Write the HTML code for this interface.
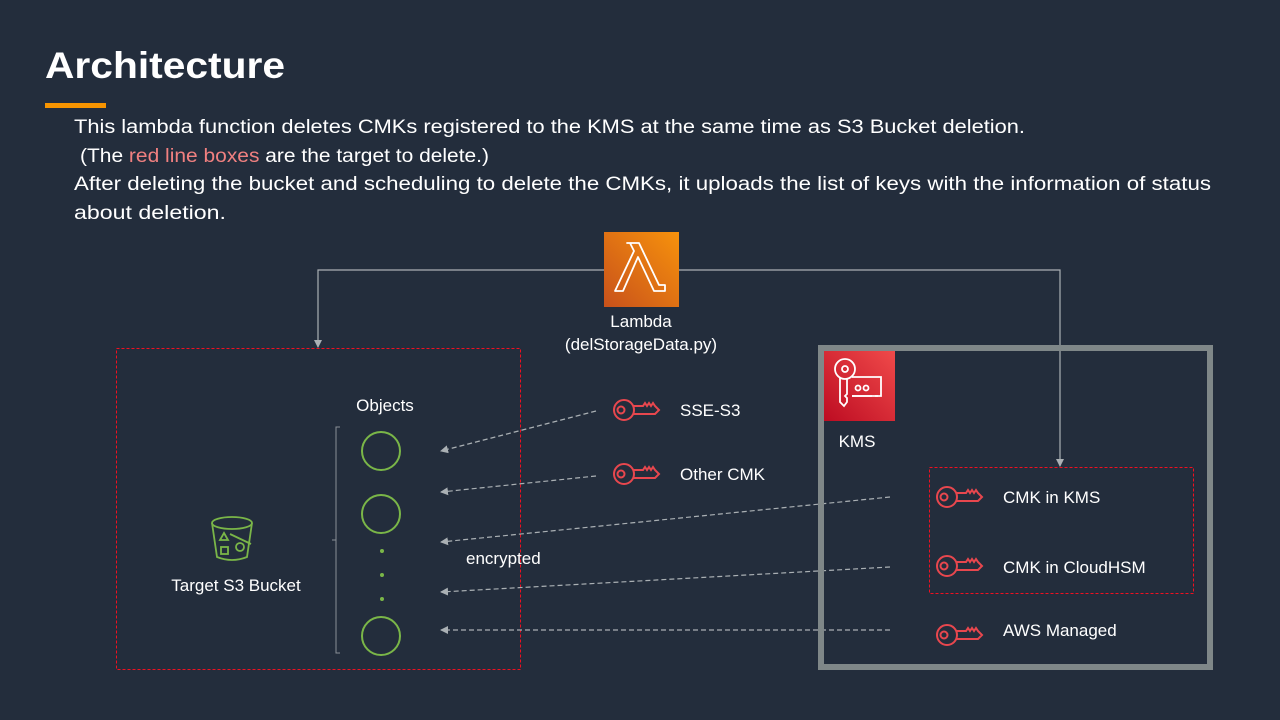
<!DOCTYPE html>
<html><head><meta charset="utf-8"><style>
html,body{margin:0;padding:0;background:#232d3c;}
svg{display:block;font-family:"Liberation Sans",sans-serif;}
</style></head><body>
<svg width="1280" height="720" viewBox="0 0 1280 720" xmlns="http://www.w3.org/2000/svg">
<defs>
<marker id="ar" markerWidth="8" markerHeight="8" refX="7" refY="4" orient="auto" markerUnits="userSpaceOnUse">
<path d="M0,0 L8,4 L0,8 z" fill="#aab0b4"/></marker>
<g id="key" fill="none" stroke="#e8474e" stroke-width="2">
<circle cx="11" cy="0" r="10"/><circle cx="8" cy="0" r="3.5"/>
<path d="M20,-4 L30,-4 L32,-7 L34,-4 L36,-7 L38,-4 L40,-7 L42,-4 L46,0 L42,4 L20,4"/>
</g>
<linearGradient id="og" x1="0" y1="1" x2="1" y2="0"><stop offset="0" stop-color="#c8511b"/><stop offset="1" stop-color="#f7920c"/></linearGradient>
<linearGradient id="rg" x1="0" y1="1" x2="1" y2="0"><stop offset="0" stop-color="#bd0c22"/><stop offset="1" stop-color="#f04a4a"/></linearGradient>
</defs>
<rect width="1280" height="720" fill="#232d3c"/>
<text x="45" y="78" font-size="37" font-weight="bold" fill="#fff" textLength="240" lengthAdjust="spacingAndGlyphs">Architecture</text>
<rect x="45" y="103" width="61" height="5" fill="#f79400"/>
<g font-size="19" fill="#fff">
<text x="74" y="133" textLength="951" lengthAdjust="spacingAndGlyphs">This lambda function deletes CMKs registered to the KMS at the same time as S3 Bucket deletion.</text>
<text x="80" y="162" textLength="409" lengthAdjust="spacingAndGlyphs">(The <tspan fill="#f08080">red line boxes</tspan> are the target to delete.)</text>
<text x="74" y="190" textLength="1137" lengthAdjust="spacingAndGlyphs">After deleting the bucket and scheduling to delete the CMKs, it uploads the list of keys with the information of status</text>
<text x="74" y="219" textLength="152" lengthAdjust="spacingAndGlyphs">about deletion.</text>
</g>
<path d="M604,270 H318 V347" fill="none" stroke="#aab0b4" stroke-width="1.2" marker-end="url(#ar)"/>
<path d="M679,270 H1060 V466" fill="none" stroke="#aab0b4" stroke-width="1.2" marker-end="url(#ar)"/>
<rect x="604" y="232" width="75" height="75" fill="url(#og)"/>
<path d="M627,243 h12 l20,42 h6 v6 h-11 l-16,-34 l-15,34 h-8 l19,-40 l-4,-8 h-3 z" fill="none" stroke="#fff" stroke-width="1.8" stroke-linejoin="round"/>
<g font-size="17" fill="#fff" text-anchor="middle"><text x="641" y="327">Lambda</text><text x="641" y="350">(delStorageData.py)</text></g>
<rect x="116.5" y="348.5" width="404" height="321" fill="none" stroke="#f01020" stroke-width="1" stroke-dasharray="3,2"/>
<g fill="none" stroke="#7ab648" stroke-width="1.8">
<path d="M212,523 L217,557 Q232,563 247,557 L252,523"/><ellipse cx="232" cy="523" rx="20" ry="6"/>
<path d="M220,540 l4,-7 l4,7 z"/><rect x="221" y="547" width="7" height="7"/><circle cx="240" cy="547" r="4"/><path d="M230,534 L251,544"/>
</g>
<text x="236" y="591" font-size="17" fill="#fff" text-anchor="middle">Target S3 Bucket</text>
<text x="385" y="411" font-size="17" fill="#fff" text-anchor="middle">Objects</text>
<path d="M340,427 H336 V653 H340 M336,540 H332" fill="none" stroke="#8a9096" stroke-width="1"/>
<g fill="none" stroke="#7ab648" stroke-width="2"><circle cx="381" cy="451" r="19"/><circle cx="381" cy="514" r="19"/><circle cx="381" cy="636" r="19"/></g>
<g fill="#7ab648"><circle cx="382" cy="551" r="2"/><circle cx="382" cy="575" r="2"/><circle cx="382" cy="599" r="2"/></g>
<g stroke="#aab0b4" stroke-width="1.2" stroke-dasharray="5,3" fill="none" marker-end="url(#ar)">
<path d="M596,411 L441,451"/><path d="M596,476 L441,492"/><path d="M890,497 L441,542"/><path d="M890,567 L441,592"/><path d="M890,630 L441,630"/>
</g>
<text x="466" y="564" font-size="17" fill="#fff">encrypted</text>
<use href="#key" x="613" y="410"/><use href="#key" x="613" y="474"/>
<g font-size="17" fill="#fff"><text x="680" y="416">SSE-S3</text><text x="680" y="480">Other CMK</text></g>
<rect x="821" y="348" width="389" height="319" fill="none" stroke="#7f8788" stroke-width="6"/>
<rect x="824" y="351" width="71" height="70" fill="url(#rg)"/>
<g fill="none" stroke="#fff" stroke-width="1.8"><circle cx="845" cy="369" r="10"/><circle cx="845" cy="369" r="3"/><path d="M840,378 v24 l4,4 l3,-4 v-4 l-2,-2 l2,-2 v-16"/><path d="M852,377 h29 v19 h-29"/><circle cx="858" cy="388" r="2.5"/><circle cx="866" cy="388" r="2.5"/><path d="M852,396 h20 m3,0 h3"/></g>
<text x="857" y="447" font-size="17" fill="#fff" text-anchor="middle">KMS</text>
<rect x="929.5" y="467.5" width="264" height="126" fill="none" stroke="#f01020" stroke-width="1" stroke-dasharray="3,2"/>
<use href="#key" x="936" y="497"/><use href="#key" x="936" y="566"/><use href="#key" x="936" y="635"/>
<g font-size="17" fill="#fff"><text x="1003" y="503">CMK in KMS</text><text x="1003" y="573">CMK in CloudHSM</text><text x="1003" y="636">AWS Managed</text></g>
</svg>
</body></html>
